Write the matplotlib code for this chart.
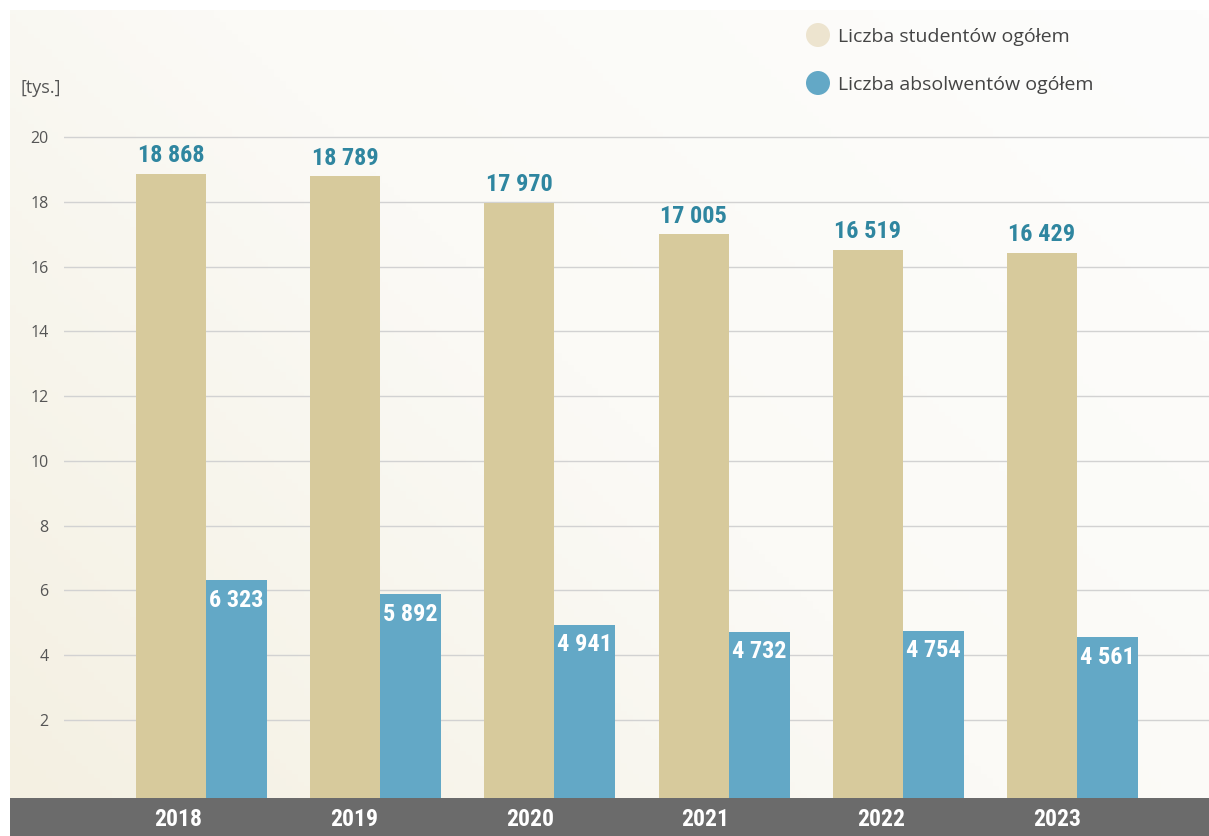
import numpy as np
import matplotlib
matplotlib.use('Agg')
import matplotlib.pyplot as plt
from matplotlib import font_manager as fm
from matplotlib.colors import LinearSegmentedColormap
from matplotlib.patches import Rectangle, Circle
from matplotlib.transforms import blended_transform_factory

# ── Data ─────────────────────────────────────────────────────────────────────
years       = ["2018", "2019", "2020", "2021", "2022", "2023"]
students    = [18868, 18789, 17970, 17005, 16519, 16429]
graduates   = [6323, 5892, 4941, 4732, 4754, 4561]
y_ticks     = [2, 4, 6, 8, 10, 12, 14, 16, 18, 20]
legend_txt  = ["Liczba studentów ogółem", "Liczba absolwentów ogółem"]

# ── Style ────────────────────────────────────────────────────────────────────
W, H = 1209, 836
BEIGE = "#d7ca9c"
BLUE = "#63a8c6"
LEG_BEIGE = "#ede4cf"
TEAL = "#2f86a0"
DARK = "#6b6b6b"
TXT_FONT = ["Open Sans", "DejaVu Sans"]

installed = {f.name for f in fm.fontManager.ttflist}
narrow = [n for n in ["Liberation Sans Narrow", "Roboto Condensed", "DejaVu Sans Condensed",
                      "Open Sans Condensed", "Noto Sans Condensed"] if n in installed]
condensed = len(narrow) > 0
NUM_FONT = narrow[:1] + ["Liberation Sans", "DejaVu Sans"]
NUM_SIZE = 17.5 if condensed else 15.5
YEAR_SIZE = 17 if condensed else 14


def fmt(v):
    return f"{v:,}".replace(",", " ")


fig = plt.figure(figsize=(W / 100, H / 100), dpi=100)
fig.patch.set_facecolor("white")

# background panel with soft diagonal gradient
bg = fig.add_axes([10 / W, 38 / H, 1199 / W, 788 / H], zorder=-1)
gx, gy = np.meshgrid(np.linspace(0, 1, 200), np.linspace(0, 1, 200))
grad = np.clip((gx * 0.6 + (1 - gy) * 0.4), 0, 1)
cmap = LinearSegmentedColormap.from_list("bg", ["#f4f0e2", "#fbfaf6", "#fdfdfc"])
bg.imshow(grad, cmap=cmap, aspect="auto", extent=[0, 1, 0, 1], origin="upper")
bg.axis("off")

# dark band at the bottom
fig.patches.append(Rectangle((10 / W, 0), 1199 / W, 38 / H, transform=fig.transFigure,
                             facecolor=DARK, edgecolor="none", zorder=0))

# ── Main axes ────────────────────────────────────────────────────────────────
ax = fig.add_axes([64 / W, 38 / H, (W - 64) / W, (798 - 120) / H])
ax.patch.set_alpha(0)
y0 = -0.41
ax.set_ylim(y0, y0 + 678 / 32.375)
ax.set_xlim(-0.413, -0.413 + (W - 64) / 174.2)

x = np.arange(len(years))
s_k = np.array(students) / 1000
g_k = np.array(graduates) / 1000
bw_s, bw_g = 0.402, 0.35
ax.bar(x, s_k - y0, bottom=y0, width=bw_s, align="edge", color=BEIGE, zorder=3)
ax.bar(x + bw_s, g_k - y0, bottom=y0, width=bw_g, align="edge", color=BLUE, zorder=3)

for i in range(len(years)):
    ax.text(x[i] + bw_s / 2, s_k[i] + 0.2, fmt(students[i]), ha="center", va="bottom",
            color=TEAL, fontsize=NUM_SIZE, fontweight="bold", family=NUM_FONT, zorder=4)
    ax.text(x[i] + bw_s + bw_g / 2, g_k[i] - 0.62, fmt(graduates[i]), ha="center", va="center",
            color="white", fontsize=NUM_SIZE, fontweight="bold", family=NUM_FONT, zorder=4)

# year labels in the dark band
tr = blended_transform_factory(ax.transData, fig.transFigure)
for i, yr in enumerate(years):
    fig.text(x[i] + 0.24 + 0.01 * i, 17 / H, yr, transform=tr, ha="center", va="center",
             color="white", fontsize=YEAR_SIZE, fontweight="bold", family=NUM_FONT)

ax.set_yticks(y_ticks)
ax.set_yticklabels([str(t) for t in y_ticks], family=TXT_FONT, fontsize=11.5, color="#555555")
ax.tick_params(axis="y", length=0, pad=11)
ax.set_xticks([])
ax.yaxis.grid(True, color="#d2d2d2", linewidth=1, zorder=0)
ax.set_axisbelow(True)
for sp in ax.spines.values():
    sp.set_visible(False)

fig.text(21 / W, 1 - 88 / H, "[tys.]", ha="left", va="center", fontsize=13,
         color="#555555", family=TXT_FONT)

# legend
for k, (txt, col) in enumerate(zip(legend_txt, [LEG_BEIGE, BLUE])):
    cy = 1 - (35 + 48 * k) / H
    fig.patches.append(Circle((818, cy * H), 12, transform=None,
                              facecolor=col, edgecolor="none"))
    fig.text(838 / W, 1 - (37 + 48 * k) / H, txt, ha="left", va="center", fontsize=14,
             color="#444444", family=TXT_FONT)

fig.savefig("out.png", dpi=100)
